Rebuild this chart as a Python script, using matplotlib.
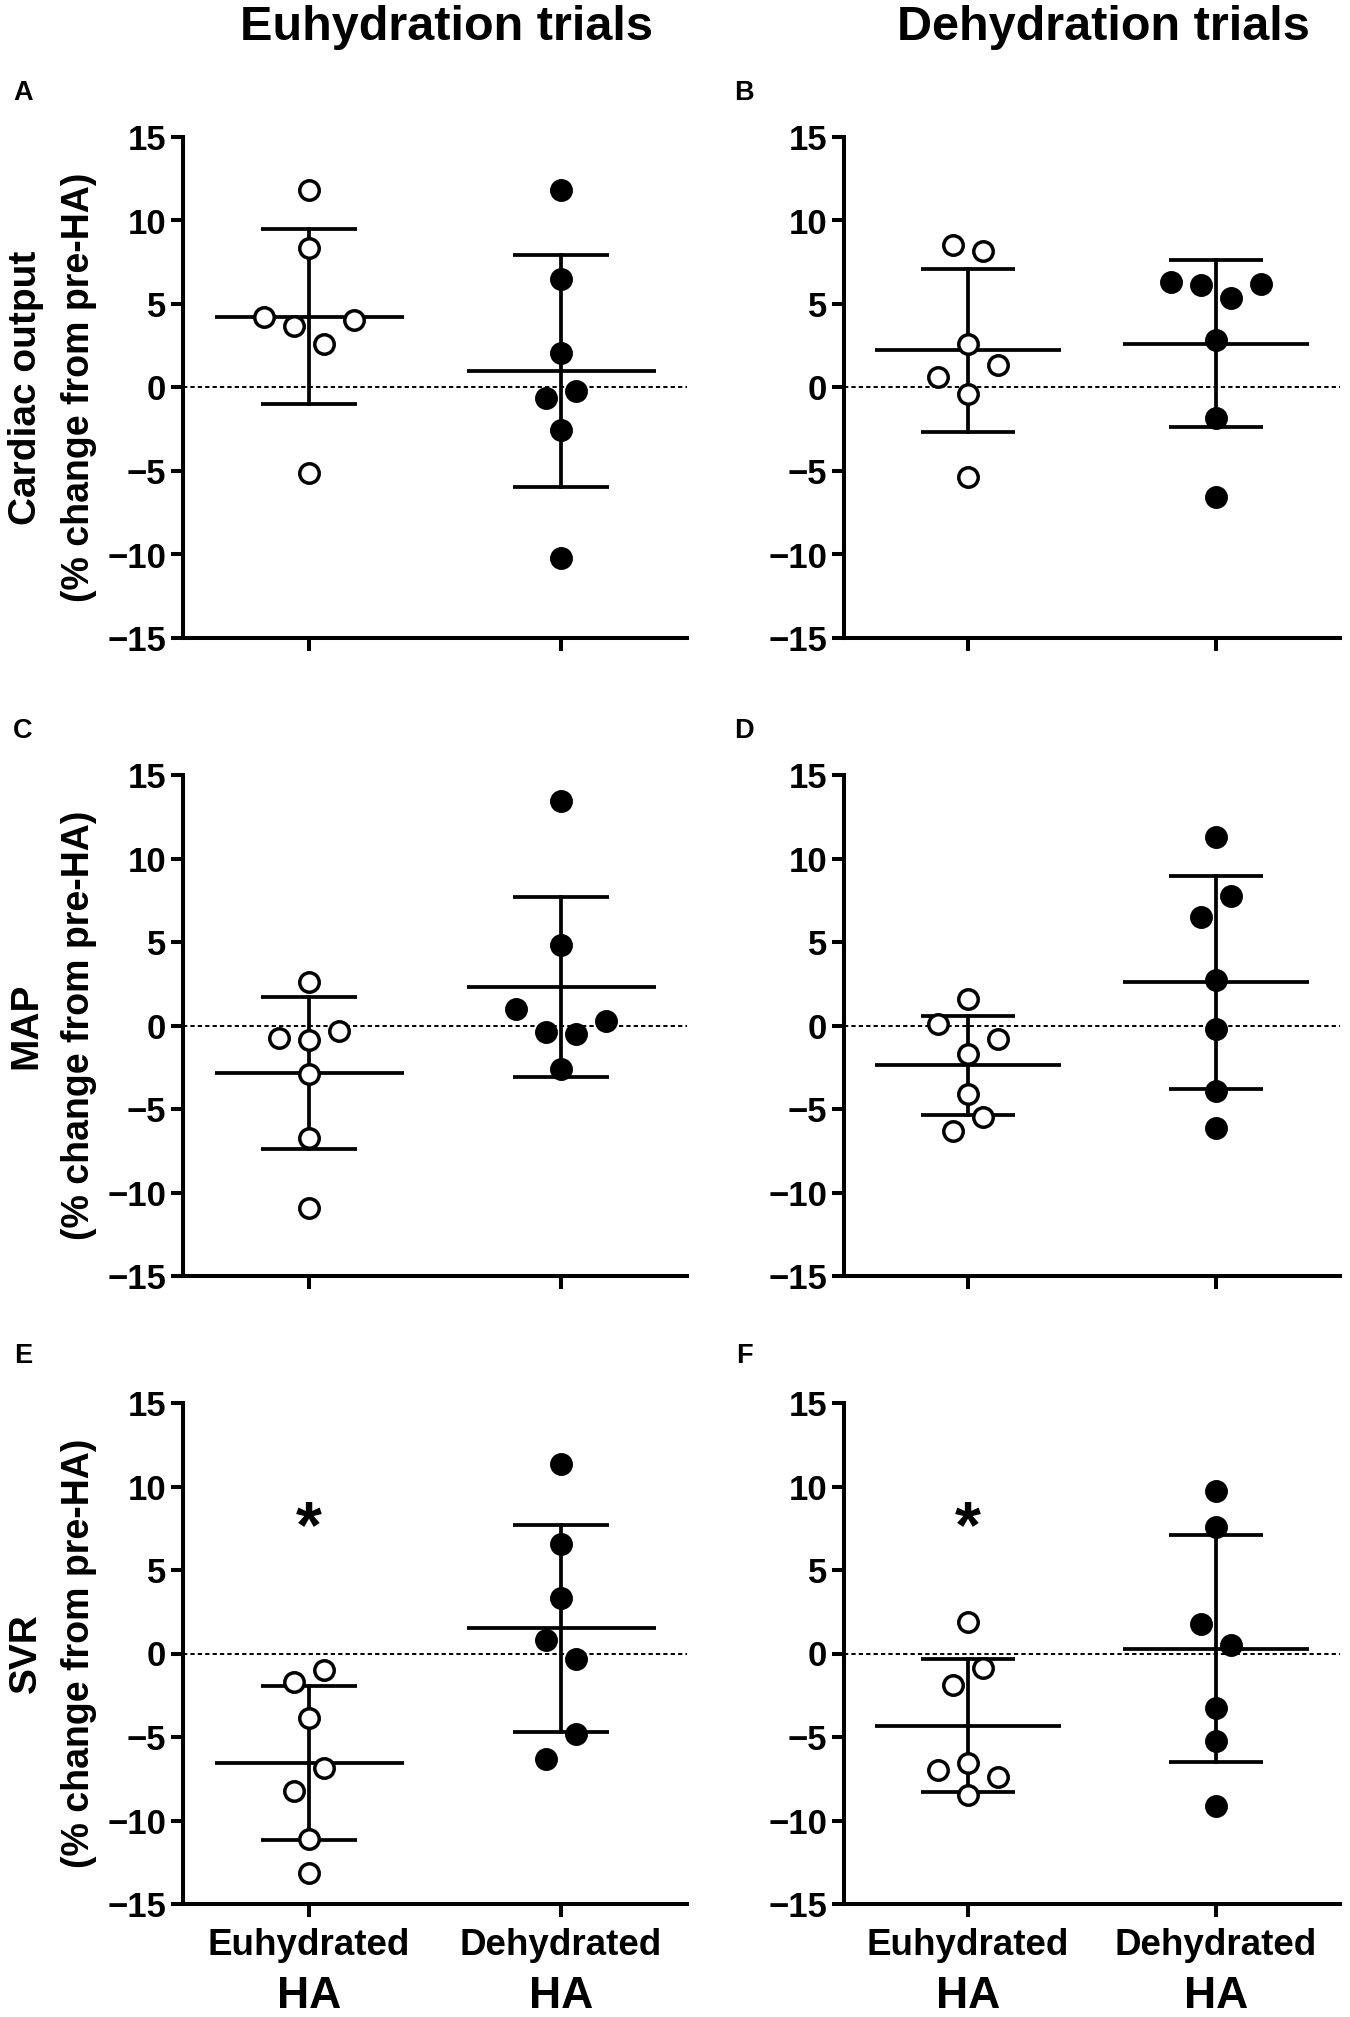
import numpy as np
import matplotlib
matplotlib.use('Agg')
import matplotlib.pyplot as plt

plt.rcParams['font.family'] = ['Liberation Sans', 'DejaVu Sans']
plt.rcParams['font.weight'] = 'bold'

# % change from pre-HA
groups = ['Euhydrated', 'Dehydrated']
col_titles = ['Euhydration trials', 'Dehydration trials']
row_names = ['Cardiac output', 'MAP', 'SVR']
letters = ['A', 'B', 'C', 'D', 'E', 'F']

# cardiac output
a_eu = [11.8, 8.35, 4.23, 3.66, 4.07, 2.59, -5.1]
a_de = [11.83, 6.52, 2.06, -0.64, -0.23, -2.52, -10.18]
b_eu = [8.51, 8.19, 2.61, 1.37, 0.62, -0.41, -5.38]
b_de = [6.34, 6.11, 5.33, 6.18, 2.86, -1.83, -6.57]
# MAP
c_eu = [2.61, -0.76, -0.87, -0.30, -2.93, -6.71, -10.95]
c_de = [13.44, 4.85, 1.01, 0.27, -0.37, -0.48, -2.63]
d_eu = [1.60, 0.09, -0.83, -1.68, -4.13, -5.46, -6.33]
d_de = [11.3, 7.74, 6.52, 2.74, -0.18, -3.9, -6.16]
# SVR
e_eu = [-1.0, -1.73, -3.84, -6.86, -8.22, -11.1, -13.16]
e_de = [11.32, 6.54, 3.34, 0.81, -0.34, -4.81, -6.33]
f_eu = [1.87, -0.89, -1.87, -6.55, -6.95, -7.42, -8.47]
f_de = [9.76, 7.58, 1.79, 0.5, -3.26, -5.24, -9.13]

# horizontal jitter slots (scatter spread like the original)
a_eu_s = [0, 0, -3, -1, 3, 1, 0]
a_de_s = [0, 0, 0, -1, 1, 0, 0]
b_eu_s = [-1, 1, 0, 2, -2, 0, 0]
b_de_s = [-3, -1, 1, 3, 0, 0, 0]
c_eu_s = [0, -2, 0, 2, 0, 0, 0]
c_de_s = [0, 0, -3, 3, -1, 1, 0]
d_eu_s = [0, -2, 2, 0, 0, 1, -1]
d_de_s = [0, 1, -1, 0, 0, 0, 0]
e_eu_s = [1, -1, 0, 1, -1, 0, 0]
e_de_s = [0, 0, 0, -1, 1, 1, -1]
f_eu_s = [0, 1, -1, 0, -2, 2, 0]
f_de_s = [0, 0, -1, 1, 0, 0, 0]

panels = [(a_eu, a_de, a_eu_s, a_de_s), (b_eu, b_de, b_eu_s, b_de_s),
          (c_eu, c_de, c_eu_s, c_de_s), (d_eu, d_de, d_eu_s, d_de_s),
          (e_eu, e_de, e_eu_s, e_de_s), (f_eu, f_de, f_eu_s, f_de_s)]
signif = [False, False, False, False, True, True]

W, H = 1350, 2017
fig = plt.figure(figsize=(W / 100, H / 100), dpi=100)

col_left = [183, 844]
col_w = [504, 496]
row_top = [137, 775, 1403]
ax_h = 501
lw = 2.7

def fy(py):
    return 1 - py / H

for i, (eu, de, eu_s, de_s) in enumerate(panels):
    r, c = i // 2, i % 2
    ax = fig.add_axes([col_left[c] / W, fy(row_top[r] + ax_h), col_w[c] / W, ax_h / H])
    ax.axhline(0, color='black', lw=1.4, ls=(0, (2.2, 1.6)), zorder=1)
    for gi, (vals, slots) in enumerate([(eu, eu_s), (de, de_s)]):
        v = np.array(vals)
        m, s = v.mean(), v.std(ddof=1)
        ax.plot([gi - 0.375, gi + 0.375], [m, m], color='black', lw=lw, solid_capstyle='butt', zorder=2)
        ax.plot([gi, gi], [m - s, m + s], color='black', lw=lw, zorder=2)
        for yy in (m - s, m + s):
            ax.plot([gi - 0.19, gi + 0.19], [yy, yy], color='black', lw=lw, solid_capstyle='butt', zorder=2)
        ax.plot(gi + np.array(slots) * 0.06, v, 'o', ms=14,
                mfc='white' if gi == 0 else 'black', mec='black', mew=2.5,
                zorder=3, clip_on=False)
    ax.set_xlim(-0.5, 1.5)
    ax.set_ylim(-15, 15)
    ax.set_xticks([0, 1])
    ax.set_yticks([-15, -10, -5, 0, 5, 10, 15])
    ax.set_xticklabels([])
    for sp in ['top', 'right']:
        ax.spines[sp].set_visible(False)
    for sp in ['left', 'bottom']:
        ax.spines[sp].set_linewidth(2.9)
    ax.tick_params(direction='out', length=9, width=2.9, labelsize=25, pad=3)
    if signif[i]:
        ax.text(0, 6.4, '*', ha='center', va='baseline', fontsize=48, fontweight='bold')
    if r == 2:
        tr = ax.get_xaxis_transform()
        for gi, g in enumerate(groups):
            ax.text(gi, (1903 - 1954) / ax_h, g, transform=tr, ha='center', va='baseline', fontsize=26.5)
            ax.text(gi, (1903 - 2007) / ax_h, 'HA', transform=tr, ha='center', va='baseline', fontsize=32)
    # panel letter
    fig.text((23 if c == 0 else 744) / W, fy([100, 738, 1363][r]), letters[i],
             ha='center', va='baseline', fontsize=19.5, fontweight='bold')

# column titles
fig.text(446 / W, fy(40), col_titles[0], ha='center', va='baseline', fontsize=35)
fig.text(1103 / W, fy(40), col_titles[1], ha='center', va='baseline', fontsize=35)

# y labels on the left column
for r in range(3):
    yc = fy(row_top[r] + ax_h / 2)
    fig.text(26 / W, yc, row_names[r], rotation=90, ha='center', va='center', fontsize=28)
    fig.text(79 / W, yc, '(% change from pre-HA)', rotation=90, ha='center', va='center', fontsize=27)

fig.savefig('out.png', dpi=100)
